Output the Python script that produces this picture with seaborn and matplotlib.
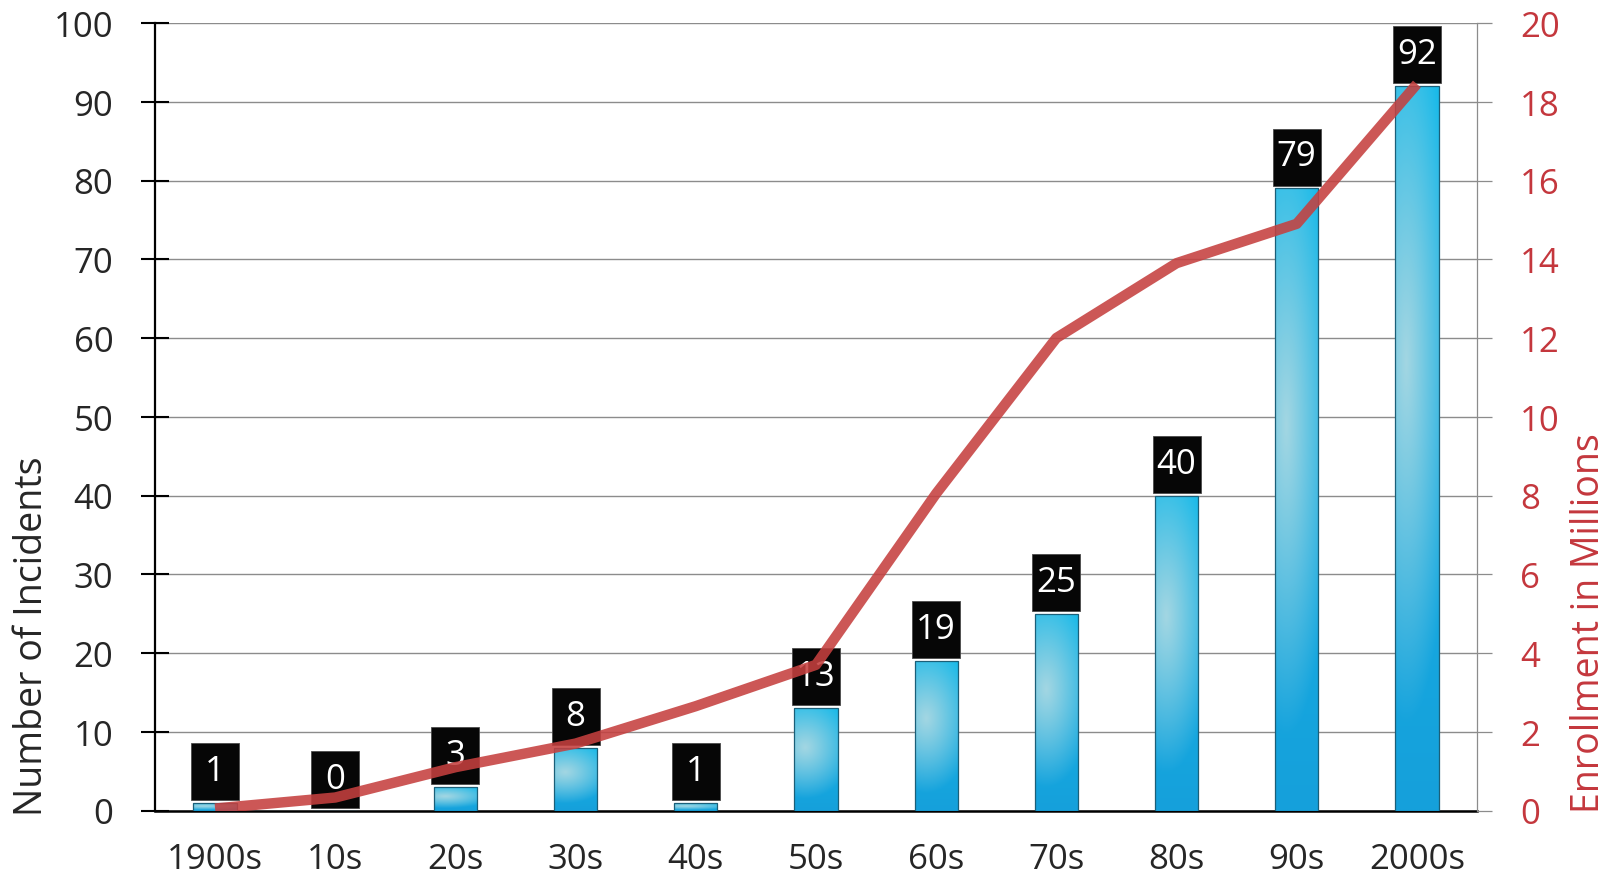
import numpy as np
import pandas as pd
import matplotlib
matplotlib.use("Agg")
import matplotlib.pyplot as plt
from matplotlib.patches import Rectangle
from matplotlib.colors import to_rgb
import seaborn as sns

# ---- data ----
decades = ["1900s", "10s", "20s", "30s", "40s", "50s", "60s", "70s", "80s", "90s", "2000s"]
incidents = [1, 0, 3, 8, 1, 13, 19, 25, 40, 79, 92]
enrollment = [0.05, 0.33, 1.1, 1.7, 2.65, 3.7, 8.05, 12.0, 13.9, 14.9, 18.45]
left_ticks = [0, 10, 20, 30, 40, 50, 60, 70, 80, 90, 100]
right_ticks = [0, 2, 4, 6, 8, 10, 12, 14, 16, 18, 20]

sns.set_theme(style="white")
plt.rcParams["font.family"] = ["Open Sans", "DejaVu Sans"]

FS = 25
LFS = 27
DARK = "#262626"
RED = "#C4373D"
LINE_RED = "#C5403F"

W, H = 1608, 878
fig = plt.figure(figsize=(W / 100, H / 100), dpi=100)
ax_left, ax_right, ax_bot, ax_top = 155, 1477, 811.5, 24
ax = fig.add_axes([ax_left / W, (H - ax_bot) / H, (ax_right - ax_left) / W, (ax_bot - ax_top) / H])

df = pd.DataFrame({"decade": decades, "incidents": incidents})
sns.barplot(data=df, x="decade", y="incidents", ax=ax, width=0.36,
            color="#19B5E6", edgecolor="#1B5F78", linewidth=0.9, zorder=3)

ax.set_xlim(-0.5, len(decades) - 0.5)
ax.set_ylim(0, 100)

# gradient fill for bars
top_c = np.array(to_rgb("#1ABAE9"))
bot_c = np.array(to_rgb("#15A0DB"))
light_c = np.array(to_rgb("#A2D6E2"))
ny, nx = 160, 40
vv, uu = np.mgrid[0:1:ny * 1j, 0:1:nx * 1j]
for p in list(ax.patches):
    x0, y0 = p.get_x(), p.get_y()
    w, h = p.get_width(), p.get_height()
    if h <= 0:
        continue
    base = bot_c[None, None, :] * (1 - vv[..., None]) + top_c[None, None, :] * vv[..., None]
    t = np.sqrt(((uu - 0.25) / 1.1) ** 2 + ((vv - 0.62) / 0.5) ** 2)
    s = np.clip(t, 0, 1) ** 1.1
    img = light_c[None, None, :] * (1 - s[..., None]) + base * s[..., None]
    im = ax.imshow(img, extent=[x0, x0 + w, y0, y0 + h], origin="lower",
                   aspect="auto", zorder=2.9, interpolation="bilinear")
    im.set_clip_path(p)
    p.set_facecolor("none")

ax.set_xlim(-0.5, len(decades) - 0.5)
ax.set_ylim(0, 100)

# black label boxes
for i, v in enumerate(incidents):
    ax.add_patch(Rectangle((i - 0.2, v + 0.35), 0.4, 7.25, facecolor="#060606",
                           edgecolor="#4a4a4a", linewidth=0.6, zorder=4))
    ax.text(i, v + 0.35 + 3.7, str(v), color="white", fontsize=FS,
            ha="center", va="center", zorder=5)

# axes styling
ax.set_yticks(left_ticks)
ax.yaxis.grid(True, color="#8c8c8c", linewidth=1.0)
ax.set_axisbelow(True)
ax.tick_params(axis="y", direction="inout", length=20, width=1.5, color="black",
               labelsize=FS, labelcolor=DARK, pad=20)
ax.set_xticks(range(len(decades)))
ax.set_xticklabels(decades)
ax.tick_params(axis="x", which="major", length=0, labelsize=FS, labelcolor=DARK, pad=23)
ax.set_xticks(np.arange(-0.5, len(decades), 1.0), minor=True)
ax.tick_params(axis="x", which="minor", direction="inout", length=26, width=2, color="black")
ax.set_xlabel("")
ax.set_ylabel("Number of Incidents", fontsize=LFS, color=DARK)
ax.yaxis.label.set_verticalalignment("center")
ax.yaxis.set_label_coords(-0.093, 0.223)
ax.spines["top"].set_visible(False)
ax.spines["left"].set_color("black")
ax.spines["left"].set_linewidth(1.6)
ax.spines["bottom"].set_color("black")
ax.spines["bottom"].set_linewidth(1.8)
ax.spines["right"].set_visible(False)

# right axis with line
ax2 = ax.twinx()
sns.lineplot(x=np.arange(len(decades)), y=enrollment, ax=ax2, color=LINE_RED,
             linewidth=7.5, alpha=0.88, zorder=6, solid_capstyle="butt")
ax2.set_ylim(0, 20)
ax2.set_yticks(right_ticks)
ax2.tick_params(axis="y", direction="out", length=11, width=0.9, color="#8c8c8c",
                labelsize=FS, labelcolor=RED, pad=20, right=True, left=False)
ax2.set_ylabel("Enrollment in Millions", fontsize=LFS, color=RED)
ax2.yaxis.label.set_verticalalignment("center")
ax2.yaxis.set_label_coords(1.085, 0.239)
ax2.spines["right"].set_color("#8c8c8c")
ax2.spines["right"].set_linewidth(0.9)
for side in ["top", "left", "bottom"]:
    ax2.spines[side].set_visible(False)
ax2.grid(False)

fig.savefig("out.png", dpi=100)
